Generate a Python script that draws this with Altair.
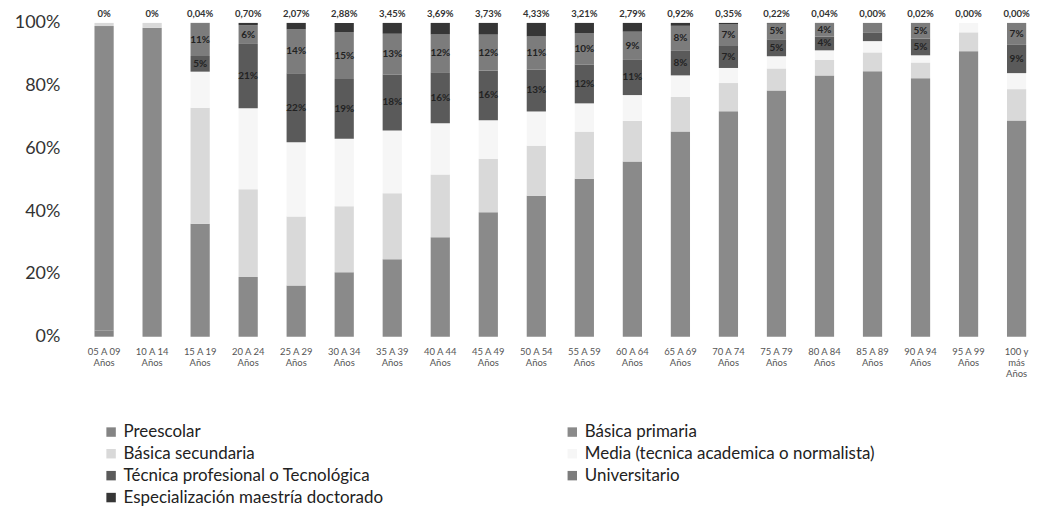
import altair as alt
import pandas as pd

grupos = ["05 A 09 Años", "10 A 14 Años", "15 A 19 Años", "20 A 24 Años", "25 A 29 Años",
          "30 A 34 Años", "35 A 39 Años", "40 A 44 Años", "45 A 49 Años", "50 A 54 Años",
          "55 A 59 Años", "60 A 64 Años", "65 A 69 Años", "70 A 74 Años", "75 A 79 Años",
          "80 A 84 Años", "85 A 89 Años", "90 A 94 Años", "95 A 99 Años", "100 y más Años"]

series = ["Preescolar", "Básica primaria", "Básica secundaria",
          "Media (tecnica academica o normalista)", "Técnica profesional o Tecnológica",
          "Universitario", "Especialización maestría doctorado"]
colores = ["#848484", "#8a8a8a", "#d9d9d9", "#f6f6f6", "#5a5a5a", "#7c7c7c", "#363636"]

preescolar = [2, 0, 0, 0, 0, 0, 0, 0, 0, 0, 0, 0, 0, 0, 0, 0, 0, 0, 0, 0]
primaria = [97, 98.5, 36, 19, 16.3, 20.5, 24.7, 31.7, 39.7, 44.9, 50.3, 55.8, 65.4, 71.8, 78.5, 83.3, 84.6, 82.4, 91, 68.9]
secundaria = [1, 1.5, 37, 28, 22, 21, 21, 20, 17, 16, 15, 13, 11, 9, 7, 5, 6, 5, 6, 10]
media = [0, 0, 11.5, 25.8, 23.7, 21.5, 20, 16.3, 12.3, 10.9, 9, 8.2, 6.9, 4.8, 3.9, 3, 3.6, 2.3, 3, 5.1]
tecnica = [0, 0, 5, 20.5, 22, 19, 17.8, 16.3, 15.8, 13.4, 12.4, 11.2, 7.8, 7, 5.4, 4.4, 2.8, 5.3, 0, 9]
universitario = [0, 0, 10.5, 6, 14, 15, 13, 12, 11.5, 10.5, 10, 9, 8, 7, 5, 4.3, 3, 5, 0, 7]
especializacion = [0, 0, 0.04, 0.7, 2.07, 2.88, 3.45, 3.69, 3.73, 4.33, 3.21, 2.79, 0.92, 0.35, 0.22, 0.04, 0, 0.02, 0, 0]

etiquetas_sup = ["0%", "0%", "0,04%", "0,70%", "2,07%", "2,88%", "3,45%", "3,69%", "3,73%", "4,33%",
                 "3,21%", "2,79%", "0,92%", "0,35%", "0,22%", "0,04%", "0,00%", "0,02%", "0,00%", "0,00%"]

valores = [preescolar, primaria, secundaria, media, tecnica, universitario, especializacion]

rows = []
for si, (s, vals) in enumerate(zip(series, valores)):
    for g, v in zip(grupos, vals):
        rows.append({"grupo": g, "serie": s, "orden": si, "valor": v})
df = pd.DataFrame(rows)
df_top = pd.DataFrame({"grupo": grupos, "etiqueta": etiquetas_sup})

FONT = "Lato"

x_enc = alt.X(
    "grupo:N", sort=grupos,
    scale=alt.Scale(paddingInner=0.6, paddingOuter=0.1),
    axis=alt.Axis(
        title=None, labelAngle=0, labelFontSize=9.5, labelColor="#555", labelFont=FONT,
        domain=False, ticks=False, labelPadding=10, labelLineHeight=11,
        labelExpr="datum.label == '100 y más Años' ? ['100 y', 'más', 'Años'] : [replace(datum.label, ' Años', ''), 'Años']",
    ),
)

base = alt.Chart(df).transform_stack(
    stack="valor", groupby=["grupo"], as_=["y0", "y1"], offset="normalize",
    sort=[alt.SortField("orden", order="ascending")],
).transform_calculate(mid="(datum.y0 + datum.y1) / 2")

bars = base.mark_bar().encode(
    x=x_enc,
    y=alt.Y("y0:Q", scale=alt.Scale(domain=[0, 1]),
            axis=alt.Axis(title=None, values=[0, 0.2, 0.4, 0.6, 0.8, 1], format=".0%",
                          labelFontSize=18, labelColor="#333", labelFont=FONT,
                          domain=False, ticks=False, grid=False, labelPadding=30)),
    y2="y1:Q",
    color=alt.Color("serie:N", scale=alt.Scale(domain=series, range=colores),
                    legend=alt.Legend(orient="none", legendX=13, legendY=402, columns=2,
                                      direction="horizontal",
                                      columnPadding=181, rowPadding=4, symbolType="square",
                                      symbolSize=90, symbolStrokeWidth=0, labelFont=FONT,
                                      labelFontSize=17, labelColor="#222", labelLimit=450,
                                      title=None)),
)

inner = base.transform_filter(
    "(datum.serie == 'Técnica profesional o Tecnológica' || datum.serie == 'Universitario') && datum.valor >= 4"
).transform_calculate(
    txt="format(datum.valor, '.0f') + '%'"
).mark_text(fontSize=10, fontWeight="bold", color="#222", font=FONT).encode(
    x=alt.X("grupo:N", sort=grupos),
    y=alt.Y("mid:Q"),
    text="txt:N",
)

top = alt.Chart(df_top).mark_text(fontSize=9.5, fontWeight="bold", color="#333", font=FONT, dy=-9).encode(
    x=alt.X("grupo:N", sort=grupos),
    y=alt.value(0),
    text="etiqueta:N",
)

chart = alt.layer(bars, inner, top).properties(
    width=945, height=315,
    autosize=alt.AutoSizeParams(type="none"),
    padding={"left": 82, "top": 14, "right": 0, "bottom": 172},
).configure_view(stroke=None)

chart.save("out.html", embed_options={"renderer": "svg", "actions": False})
